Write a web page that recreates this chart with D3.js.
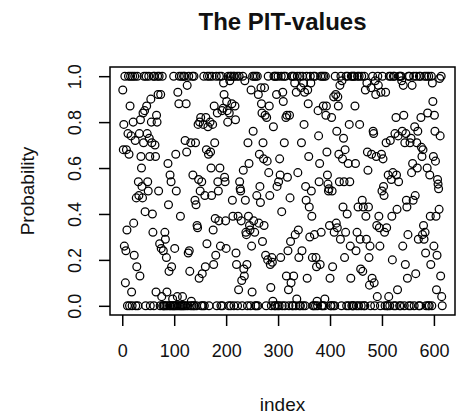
<!DOCTYPE html>
<html>
<head>
<meta charset="utf-8">
<script src="https://cdn.jsdelivr.net/npm/d3@7"></script>
<style>
  body { margin: 0; background: #fff; }
  svg { display: block; font-family: "Liberation Sans", Arial, sans-serif; }
</style>
</head>
<body>
<svg id="chart" width="461" height="419"></svg>
<script>
// PIT values, in index order (index = position + 1)
var pit = [
  .94, .68, .79, .26, 1, .10, .24, .68, .33, 0,
  .75, 1, .66, 0, .87, 1, .74, .06, 0, 1,
  .80, .36, .22, 1, .72, 0, .47, .17, 1, 0,
  .54, .48, .75, .13, .81, .65, .60, .52, .47, .84,
  .71, 1, .85, .41, 0, 1, .87, .75, .54, .50,
  1, .73, .65, 0, .90, .80, .71, .40, .32, 1,
  0, 1, .70, .65, .06, .83, .80, 1, .92, .50,
  1, .27, 0, .92, .25, .04, 1, 0, .24, 0,
  0, .32, .29, 0, .21, .06, 0, .62, .44, .15,
  0, .57, 0, .54, .17, 0, .03, 0, 1, 0,
  .25, 0, .66, .50, 0, .04, .93, 0, .88, 1,
  0, .39, 0, 1, 0, .04, 0, 1, 0, 1,
  .72, 0, .88, .67, .96, 0, .23, 1, .24, .15,
  0, .71, .02, 0, 1, .57, 0, 1, 0, .46,
  .71, .44, 0, .35, .34, .79, .55, .12, .80, .50,
  .82, 0, .54, .14, 0, .79, 1, 0, .48, .17,
  .82, .68, .27, 1, .78, .66, 0, 1, .80, .67,
  .60, .48, 1, .79, .33, .18, .87, .71, .38, .22,
  1, 0, .84, .54, .50, .37, 1, .60, .26, 0,
  1, .85, 0, .86, .97, .92, .56, .54, .37, .25,
  .89, .85, .80, 1, 0, .84, .98, 1, 0, 1,
  .88, .46, .39, 1, 0, 1, .87, .81, .23, .18,
  1, 0, .39, .07, 1, .54, .51, .50, .37, .11,
  0, 1, .59, .16, .13, .98, .46, .32, .31, .18,
  0, .71, .39, .62, .35, .33, 0, .94, .26, .06,
  1, .76, .37, 1, .32, 0, 1, 0, .48, 1,
  0, .92, .36, .66, .52, .45, .95, .88, .84, .28,
  .71, .64, .35, .95, .83, .22, 0, .82, .63, .20,
  1, .58, .87, .48, .18, .08, 0, .21, .19, .02,
  .78, 1, 0, 1, 0, 1, .92, .52, 0, 1,
  .54, 0, .64, .57, .21, 1, .41, 0, .93, .89,
  1, .71, 0, 1, .82, .13, .83, .56, .24, .07,
  0, .83, .47, .28, .10, 1, 0, 1, 0, .13,
  1, .97, .31, 0, .93, .03, 1, .58, .33, .21,
  0, 1, 0, .95, .71, .24, 1, 0, .97, .79,
  .93, 0, .52, .46, 1, .12, .94, .88, .65, .43,
  .30, 1, .97, .50, .39, .21, 0, 1, 0, .31,
  1, 0, .21, .17, .02, 0, .85, .74, .54, .62,
  .18, 1, .32, 0, 1, 0, .87, 1, 0, .03,
  1, .83, .87, .67, .57, .53, .50, .51, .35, .12,
  0, 0, .82, .50, .17, 0, .91, .32, 0, 1,
  .92, .36, .76, .34, .91, .87, .66, .54, .96, .29,
  1, 0, .98, .64, .43, .73, .54, .21, .68, .32,
  1, 0, .40, 1, .62, 0, .79, .54, .26, .12,
  1, 0, 1, 0, 0, 1, 1, .87, .62, .24,
  0, .32, 1, .43, 0, 1, .79, .29, .16, 0,
  1, .46, .15, .43, 0, 1, 0, .94, .39, .29,
  .97, .67, .59, .43, .21, .09, .26, 0, .95, .66,
  .12, 1, .76, .75, .10, 0, .98, .92, .65, .35,
  .04, 1, .96, .39, .34, .26, 0, .93, .66, .50,
  1, .64, .52, .48, .32, 0, .93, .71, .34, 0,
  0, .57, .04, 1, 0, .72, 1, .55, .39, .20,
  .58, 1, 0, 1, .75, 0, .82, .57, .42, .07,
  .74, .54, 1, 0, 1, 0, 1, .98, .76, .26,
  .96, .83, 0, .71, .18, .75, .46, .43, .12, .31,
  1, 0, 1, .71, 0, .73, .58, .96, .62, .46,
  1, 0, .78, .48, .14, 1, .71, .60, .76, .29,
  0, 1, 0, 1, .82, .69, .65, .31, .68, .35,
  .29, 1, .32, .23, 0, 1, .60, .84, 0, 1,
  0, .57, .39, .18, 1, 0, .97, .89, .65, .26,
  .83, .76, .63, .39, .07, .22, .55, .53, .51, .42,
  .99, .74, .13, 1, .04, 0
];

var xTicks = [0, 100, 200, 300, 400, 500, 600];
var yTicks = [0, 0.2, 0.4, 0.6, 0.8, 1.0];

var title = "The PIT-values";
var xLabel = "index";
var yLabel = "Probability";

(function() {
  var svg = d3.select("#chart");

  // plot region (R style, 4% padding on both axes)
  var plotLeft = 110, plotRight = 455, plotTop = 67, plotBottom = 315;
  var n = pit.length;
  var padX = 0.04 * (n - 1);

  var xScale = d3.scaleLinear()
    .domain([1 - padX, n + padX])
    .range([plotLeft, plotRight]);

  var yScale = d3.scaleLinear()
    .domain([-0.04, 1.04])
    .range([plotBottom, plotTop]);

  // points (open circles, pch = 1)
  svg.append("g")
    .selectAll("circle")
    .data(pit)
    .enter()
    .append("circle")
    .attr("cx", function(d, i) { return xScale(i + 1); })
    .attr("cy", function(d) { return yScale(d); })
    .attr("r", 3.9)
    .attr("fill", "none")
    .attr("stroke", "#000")
    .attr("stroke-width", 1.25);

  // box
  svg.append("rect")
    .attr("x", plotLeft)
    .attr("y", plotTop)
    .attr("width", plotRight - plotLeft)
    .attr("height", plotBottom - plotTop)
    .attr("fill", "none")
    .attr("stroke", "#000")
    .attr("stroke-width", 1.5);

  // x axis
  var xAxis = d3.axisBottom(xScale)
    .tickValues(xTicks)
    .tickSize(11)
    .tickPadding(18)
    .tickFormat(d3.format("d"));

  var gx = svg.append("g")
    .attr("transform", "translate(0," + plotBottom + ")")
    .call(xAxis);

  gx.select(".domain").remove();
  gx.selectAll(".tick line").attr("stroke", "#000").attr("stroke-width", 1.5);
  gx.selectAll(".tick text")
    .attr("fill", "#111")
    .style("font-size", "18px")
    .style("font-family", "Liberation Sans, Arial, sans-serif");

  // y axis, labels parallel to axis
  var yAxis = d3.axisLeft(yScale)
    .tickValues(yTicks)
    .tickSize(11)
    .tickFormat(d3.format(".1f"));

  var gy = svg.append("g")
    .attr("transform", "translate(" + plotLeft + ",0)")
    .call(yAxis);

  gy.select(".domain").remove();
  gy.selectAll(".tick line").attr("stroke", "#000").attr("stroke-width", 1.5);
  gy.selectAll(".tick text")
    .attr("x", null)
    .attr("dy", null)
    .attr("text-anchor", "middle")
    .attr("transform", "translate(-29,0) rotate(-90)")
    .attr("fill", "#111")
    .style("font-size", "18px")
    .style("font-family", "Liberation Sans, Arial, sans-serif");

  // title and axis labels
  svg.append("text")
    .attr("x", (plotLeft + plotRight) / 2)
    .attr("y", 30)
    .attr("text-anchor", "middle")
    .style("font-size", "24px")
    .style("font-weight", "bold")
    .attr("fill", "#111")
    .text(title);

  svg.append("text")
    .attr("x", (plotLeft + plotRight) / 2)
    .attr("y", 411)
    .attr("text-anchor", "middle")
    .style("font-size", "19px")
    .attr("fill", "#111")
    .text(xLabel);

  svg.append("text")
    .attr("transform", "translate(34," + ((plotTop + plotBottom) / 2) + ") rotate(-90)")
    .attr("text-anchor", "middle")
    .style("font-size", "19px")
    .attr("fill", "#111")
    .text(yLabel);
})();
</script>
</body>
</html>
